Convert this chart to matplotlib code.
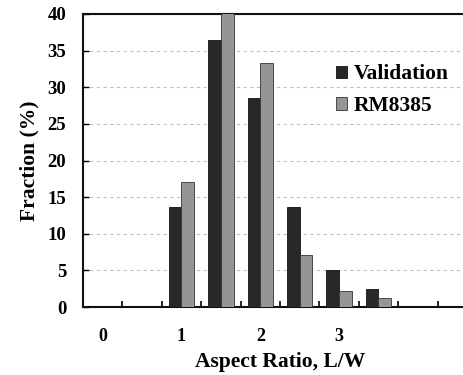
import matplotlib
matplotlib.use("Agg")
import matplotlib.pyplot as plt
import numpy as np

categories = [0, 0.5, 1, 1.5, 2, 2.5, 3, 3.5, 4, 4.5]
validation = [0, 0, 13.6, 36.4, 28.5, 13.7, 5.0, 2.5, 0, 0]
rm8385 = [0, 0, 17.0, 40.3, 33.3, 7.1, 2.2, 1.2, 0, 0]
tick_labels = ["0", "1", "2", "3"]

plt.rcParams['font.family'] = ['Liberation Serif', 'DejaVu Serif']
plt.rcParams['font.weight'] = 'bold'

fig = plt.figure(figsize=(4.64, 3.75), dpi=100)
ax = fig.add_axes([83/464, 68/375, 394/464, 293/375])

x = np.arange(len(categories))
w = 0.32
ax.bar(x - w/2, validation, w, color='#282828', edgecolor='#111111', linewidth=0.6, label='Validation', zorder=3)
ax.bar(x + w/2, rm8385, w, color='#959595', edgecolor='#333333', linewidth=0.6, label='RM8385', zorder=3)

ax.set_xlim(-0.5, len(categories) - 0.5)
ax.set_ylim(0, 40)
ax.set_yticks(np.arange(0, 41, 5))
ax.set_yticklabels([str(v) for v in range(0, 41, 5)], fontsize=13.5, fontweight='bold')

ax.set_xticks(x[:2 * len(tick_labels):2])
ax.set_xticklabels(tick_labels, fontsize=13, fontweight='bold')
ax.tick_params(axis='x', which='major', length=0, pad=15)
ax.set_xticks(np.arange(0.5, len(categories) - 0.5, 1), minor=True)
ax.tick_params(axis='x', which='minor', direction='in', length=4, width=1.2)
ax.tick_params(axis='y', direction='in', length=4, width=1.0, pad=12)

ax.grid(axis='y', linestyle=(0, (3, 3)), color='#c0c0c0', linewidth=0.8, zorder=0)
for s in ax.spines.values():
    s.set_linewidth(1.5)
    s.set_color('#111111')

ax.set_ylabel('Fraction (%)', fontsize=15.5, fontweight='bold', labelpad=6)
ax.set_xlabel('Aspect Ratio, L/W', fontsize=15.5, fontweight='bold', labelpad=5)

leg = ax.legend(loc='upper left', bbox_to_anchor=(0.643, 0.828), frameon=False,
                fontsize=15.5, handlelength=0.5, handleheight=0.5, handletextpad=0.3,
                labelspacing=0.55, borderaxespad=0, borderpad=0)

fig.savefig('out.png', dpi=100)
